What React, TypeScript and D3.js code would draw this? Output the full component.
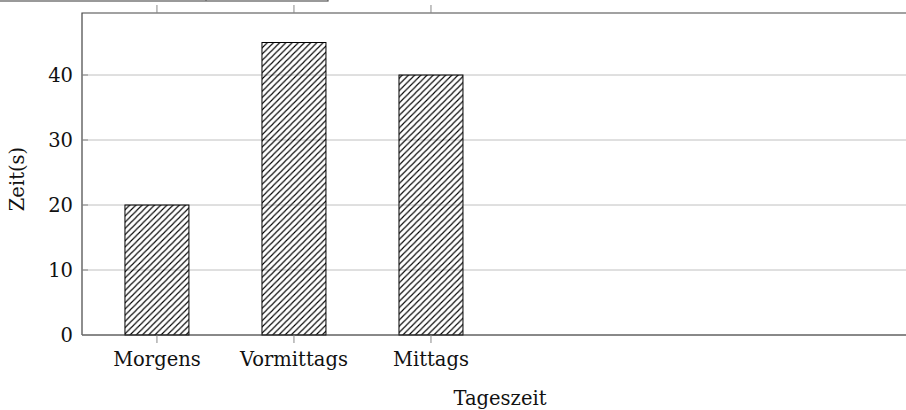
import React from "react";
import * as d3 from "d3";

// chart data
const categories = ["Morgens", "Vormittags", "Mittags"];
const values = [20, 45, 40];
const yTicks = [0, 10, 20, 30, 40];

const W = 906;
const H = 410;
const margin = { top: 13, right: 0, bottom: 75, left: 82 };
const font = "'DejaVu Serif', serif";
const fs = 19.5;

const App = () => {
  const x = d3
    .scaleLinear()
    .domain([-0.547, 5.467])
    .range([margin.left, W - margin.right]);
  const y = d3
    .scaleLinear()
    .domain([0, 49.54])
    .range([H - margin.bottom, margin.top]);

  const barW = x(0.467) - x(0);
  const y0 = y(0);
  const top = margin.top;

  return (
    <svg
      width={W}
      height={H}
      style={{ position: "absolute", left: 0, top: 0, background: "#fff" }}
    >
      <defs>
        <pattern
          id="hatch"
          patternUnits="userSpaceOnUse"
          width={6.2}
          height={6.2}
        >
          <path
            d="M-1,7.2 L7.2,-1 M-1,1 L1,-1 M5.2,7.2 L7.2,5.2"
            stroke="#000"
            strokeWidth={1.1}
          />
        </pattern>
      </defs>

      {/* grid lines */}
      {yTicks.map((t) => (
        <line
          key={"g" + t}
          x1={margin.left}
          x2={W}
          y1={y(t)}
          y2={y(t)}
          stroke="#c0c0c0"
          strokeWidth={1}
        />
      ))}

      {/* bars */}
      {values.map((v, i) => (
        <rect
          key={categories[i]}
          x={x(i) - barW / 2}
          y={y(v)}
          width={barW}
          height={y0 - y(v)}
          fill="url(#hatch)"
          stroke="#000"
          strokeWidth={1}
        />
      ))}

      {/* frame */}
      <path
        d={`M${margin.left},${y0} V${top} H${W}`}
        fill="none"
        stroke="#444"
        strokeWidth={1.2}
      />
      <line x1={margin.left} x2={W} y1={y0} y2={y0} stroke="#333" strokeWidth={1.2} />

      {/* y ticks */}
      {yTicks.map((t) => (
        <g key={"yt" + t}>
          <line x1={margin.left} x2={margin.left + 6} y1={y(t)} y2={y(t)} stroke="#888" />
          <text
            x={margin.left - 9}
            y={y(t)}
            dy="0.36em"
            textAnchor="end"
            fontFamily={font}
            fontSize={fs}
            fill="#111"
          >
            {t}
          </text>
        </g>
      ))}

      {/* x ticks */}
      {categories.map((c, i) => (
        <g key={"xt" + c}>
          <line x1={x(i)} x2={x(i)} y1={y0} y2={y0 + 8} stroke="#888" />
          <line x1={x(i)} x2={x(i)} y1={top} y2={top - 8} stroke="#888" />
          <text
            x={x(i)}
            y={y0 + 31}
            textAnchor="middle"
            fontFamily={font}
            fontSize={fs}
            fill="#111"
          >
            {c}
          </text>
        </g>
      ))}

      {/* axis labels */}
      <text
        x={500}
        y={405}
        textAnchor="middle"
        fontFamily={font}
        fontSize={fs}
        fill="#111"
      >
        Tageszeit
      </text>
      <text
        transform={`translate(24,179) rotate(-90)`}
        textAnchor="middle"
        fontFamily={font}
        fontSize={fs}
        fill="#111"
      >
        Zeit(s)
      </text>

      {/* legend box, cut off at the top */}
      <rect x={-2} y={-30} width={330} height={31} fill="#fff" stroke="#555" strokeWidth={1.2} />
      <line x1={206} x2={206} y1={-30} y2={1} stroke="#555" strokeWidth={1} />
    </svg>
  );
};

export default App;
